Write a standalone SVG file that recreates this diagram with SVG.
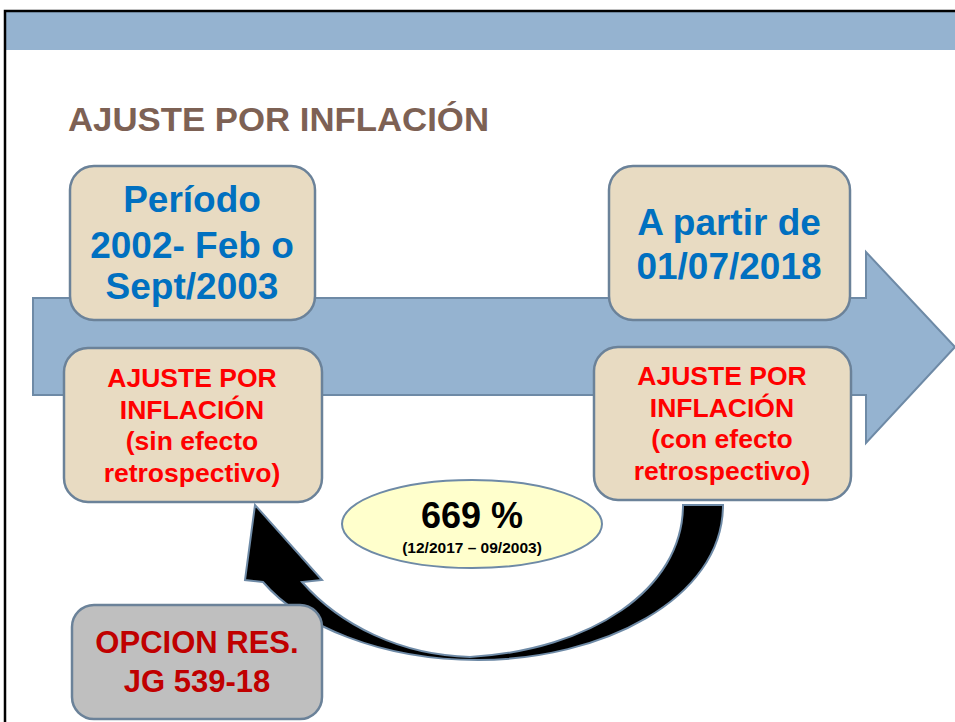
<svg xmlns="http://www.w3.org/2000/svg" width="955" height="722" viewBox="0 0 955 722">
<style>
text{font-family:"Liberation Sans",Arial,sans-serif;font-weight:bold;text-anchor:middle}
.box{fill:#e8dbc2;stroke:#6b8299;stroke-width:2.5}
.blue{fill:#0070c0;font-size:37px}
.red{fill:#ff0000;font-size:26.5px}
</style>
<rect x="0" y="0" width="955" height="722" fill="#ffffff"/>
<rect x="6" y="12" width="949" height="38" fill="#95b3d0"/>
<path d="M5,722 V11 H955" fill="none" stroke="#000" stroke-width="2.5"/>
<text x="68" y="131" style="text-anchor:start;font-size:34px;fill:#7d6154" textLength="421" lengthAdjust="spacingAndGlyphs">AJUSTE POR INFLACIÓN</text>
<g id="timeline">
<path d="M33,298 H866 V252 L955,347 L866,443 V395 H33 Z" fill="#95b3d0" stroke="#6e8aa6" stroke-width="2"/>
</g>
<g id="connectors">
<path d="M723,505 C723,600 600,660 478,660 C380,660 300,625 263,582 L245,580 L255,505 L322,580 L302,582 C340,625 400,655 470,657 C590,650 683,590 683,505 Z" fill="#000" stroke="#6e8aa6" stroke-width="2"/>
</g>
<g id="box-periodo">
<rect class="box" x="70" y="166" width="245" height="154" rx="24"/>
<text class="blue" x="192" y="212">Período</text>
<text class="blue" x="192" y="258">2002- Feb o</text>
<text class="blue" x="192" y="299">Sept/2003</text>
</g>
<g id="box-sin-efecto">
<rect class="box" x="64" y="348" width="258" height="154" rx="24"/>
<text class="red" x="192" y="387">AJUSTE POR</text>
<text class="red" x="192" y="419">INFLACIÓN</text>
<text class="red" x="192" y="450">(sin efecto</text>
<text class="red" x="192" y="482">retrospectivo)</text>
</g>
<g id="box-a-partir">
<rect class="box" x="609" y="166" width="241" height="154" rx="24"/>
<text class="blue" x="729" y="235">A partir de</text>
<text class="blue" x="729" y="279">01/07/2018</text>
</g>
<g id="box-con-efecto">
<rect class="box" x="594" y="347" width="257" height="153" rx="24"/>
<text class="red" x="722" y="385">AJUSTE POR</text>
<text class="red" x="722" y="417">INFLACIÓN</text>
<text class="red" x="722" y="448">(con efecto</text>
<text class="red" x="722" y="480">retrospectivo)</text>
</g>
<g id="ellipse-669">
<ellipse cx="472" cy="524" rx="130" ry="44" fill="#ffffcc" stroke="#6e8aa6" stroke-width="2"/>
<text x="472" y="528" style="font-size:36px;fill:#000">669 %</text>
<text x="472" y="553" style="font-size:15.5px;fill:#000">(12/2017 – 09/2003)</text>
</g>
<g id="box-opcion">
<rect x="72" y="605" width="250" height="114" rx="22" fill="#bfbfbf" stroke="#6b8299" stroke-width="2.5"/>
<text x="197" y="653" style="font-size:31px;fill:#c00000">OPCION RES.</text>
<text x="197" y="692" style="font-size:31px;fill:#c00000">JG 539-18</text>
</g>
</svg>
